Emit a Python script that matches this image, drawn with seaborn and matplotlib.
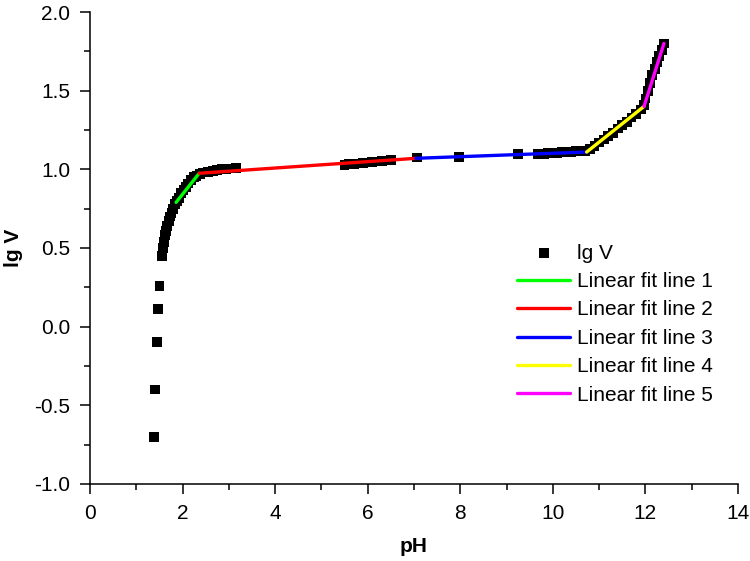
import numpy as np
import pandas as pd
import matplotlib
matplotlib.use('Agg')
import matplotlib.pyplot as plt
import seaborn as sns
from matplotlib.ticker import MultipleLocator

# measured points (pH, lg V)
ph = [1.38, 1.40, 1.44, 1.47, 1.50, 1.56,
      1.58, 1.60, 1.62, 1.64, 1.67, 1.70, 1.73, 1.76, 1.80, 1.84, 1.88, 1.92,
      1.97, 2.02, 2.07, 2.12, 2.18, 2.24, 2.30, 2.37, 2.45, 2.55, 2.65, 2.75,
      2.85, 2.95, 3.05, 3.15,
      5.50, 5.60, 5.70, 5.80, 5.90, 6.00, 6.10, 6.20, 6.30, 6.40, 6.50,
      7.06, 7.97, 9.24, 9.67,
      9.80, 9.90, 10.00, 10.10, 10.20, 10.30, 10.40, 10.50, 10.60, 10.70,
      10.80, 10.90, 11.00, 11.10, 11.20, 11.30, 11.40, 11.50, 11.60, 11.70,
      11.80, 11.90, 11.97,
      12.00, 12.05, 12.10, 12.15, 12.20, 12.25, 12.30, 12.35, 12.40]
lgv = [-0.70, -0.40, -0.10, 0.11, 0.26, 0.45,
       0.50, 0.54, 0.58, 0.61, 0.64, 0.67, 0.70, 0.72, 0.75, 0.78, 0.80, 0.82,
       0.85, 0.87, 0.89, 0.91, 0.93, 0.95, 0.96, 0.97, 0.98, 0.985, 0.99, 0.995,
       1.00, 1.00, 1.005, 1.01,
       1.030, 1.032, 1.035, 1.037, 1.040, 1.043, 1.046, 1.050, 1.053, 1.056, 1.060,
       1.075, 1.080, 1.095, 1.100,
       1.100, 1.102, 1.104, 1.106, 1.108, 1.110, 1.112, 1.114, 1.116, 1.118,
       1.13, 1.15, 1.17, 1.19, 1.21, 1.23, 1.26, 1.28, 1.30, 1.33,
       1.35, 1.38, 1.41,
       1.45, 1.50, 1.55, 1.60, 1.64, 1.68, 1.72, 1.76, 1.80]

# linear fit segments: (x0, x1), (y0, y1)
fit_x = [[1.86, 2.36], [2.36, 7.04], [7.04, 10.73], [10.73, 11.97], [11.97, 12.40]]
fit_y = [[0.79, 0.975], [0.975, 1.07], [1.07, 1.11], [1.11, 1.40], [1.40, 1.80]]
fit_labels = ['Linear fit line 1', 'Linear fit line 2', 'Linear fit line 3',
              'Linear fit line 4', 'Linear fit line 5']
fit_colors = ['#00FF00', '#FF0000', '#0000FF', '#FFFF00', '#FF00FF']

sns.set_style("ticks")
plt.rcParams['font.family'] = ['Liberation Sans', 'DejaVu Sans']
for key in ['text.color', 'axes.labelcolor', 'xtick.color', 'ytick.color', 'axes.edgecolor']:
    plt.rcParams[key] = 'black'

df = pd.DataFrame({'pH': ph, 'lg V': lgv})

fig = plt.figure(figsize=(7.5, 5.61), dpi=100)
ax = fig.add_axes([0.12, 0.1373, 0.864, 0.8413])

sns.scatterplot(data=df, x='pH', y='lg V', marker='s', s=50, color='black',
                edgecolor='none', label='lg V', ax=ax, zorder=2)
for xs, ys, lab, col in zip(fit_x, fit_y, fit_labels, fit_colors):
    ax.plot(xs, ys, color=col, lw=2.4, label=lab, zorder=3, solid_capstyle='round')

ax.set_xlim(0, 14)
ax.set_ylim(-1.0, 2.0)
ax.xaxis.set_major_locator(MultipleLocator(2))
ax.xaxis.set_minor_locator(MultipleLocator(1))
ax.yaxis.set_major_locator(MultipleLocator(0.5))
ax.yaxis.set_minor_locator(MultipleLocator(0.25))
ax.tick_params(which='major', length=7.2, width=1.1, labelsize=15, pad=7, direction='out')
ax.tick_params(which='minor', length=4.3, width=1.1, direction='out')
ax.set_xticklabels([f'{int(v)}' for v in ax.get_xticks()])
ax.set_yticklabels([f'{v:.1f}' for v in ax.get_yticks()])
for sp in ['left', 'bottom']:
    ax.spines[sp].set_linewidth(1.1)
sns.despine(ax=ax)

ax.set_xlabel('pH', fontsize=15, fontweight='bold', labelpad=10)
ax.set_ylabel('lg V', fontsize=15, fontweight='bold', labelpad=8)

ax.legend(loc='upper left', bbox_to_anchor=(0.659, 0.509), frameon=False,
          fontsize=15, handlelength=2.55, handletextpad=0.34, labelspacing=0.45,
          borderpad=0, borderaxespad=0)

fig.savefig('out.png', dpi=100)
